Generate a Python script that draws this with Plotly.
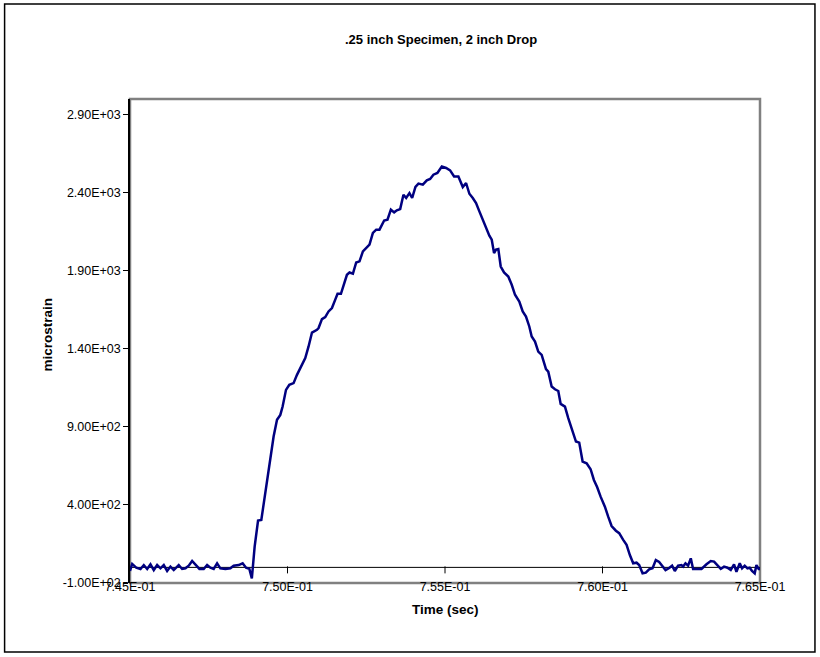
import plotly.graph_objects as go

# ---- data ----
time_s = [
    0.745000, 0.745070, 0.745197, 0.745333, 0.745438, 0.745545, 0.745650, 0.745755,
    0.745862, 0.745967, 0.746072, 0.746179, 0.746284, 0.746389, 0.746547, 0.746655,
    0.746760, 0.746864, 0.746972, 0.747099, 0.747204, 0.747340, 0.747448, 0.747552,
    0.747657, 0.747765, 0.747869, 0.748028, 0.748186, 0.748291, 0.748450, 0.748576,
    0.748684, 0.748789, 0.748868, 0.748957, 0.749065, 0.749169, 0.749274, 0.749382,
    0.749455, 0.749559, 0.749667, 0.749772, 0.749845, 0.749952, 0.750057, 0.750193,
    0.750301, 0.750406, 0.750564, 0.750669, 0.750777, 0.750935, 0.750986, 0.751094,
    0.751198, 0.751303, 0.751411, 0.751516, 0.751589, 0.751696, 0.751779, 0.751887,
    0.751969, 0.752077, 0.752181, 0.752286, 0.752394, 0.752498, 0.752603, 0.752711,
    0.752816, 0.752920, 0.753069, 0.753174, 0.753282, 0.753386, 0.753472, 0.753577,
    0.753681, 0.753767, 0.753871, 0.753957, 0.754062, 0.754157, 0.754296, 0.754423,
    0.754528, 0.754632, 0.754759, 0.754899, 0.755035, 0.755162, 0.755289, 0.755425,
    0.755565, 0.755669, 0.755774, 0.755882, 0.755986, 0.756091, 0.756199, 0.756303,
    0.756408, 0.756484, 0.756557, 0.756620, 0.756693, 0.756769, 0.756874, 0.757010,
    0.757118, 0.757223, 0.757359, 0.757467, 0.757571, 0.757676, 0.757752, 0.757857,
    0.757961, 0.758069, 0.758142, 0.758206, 0.758278, 0.758386, 0.758491, 0.758596,
    0.758672, 0.758808, 0.758913, 0.759020, 0.759157, 0.759261, 0.759369, 0.759496,
    0.759623, 0.759727, 0.759832, 0.759940, 0.760076, 0.760181, 0.760289, 0.760425,
    0.760530, 0.760657, 0.760764, 0.760869, 0.760974, 0.761081, 0.761164, 0.761272,
    0.761376, 0.761481, 0.761589, 0.761693, 0.761798, 0.761893, 0.762001, 0.762105,
    0.762210, 0.762296, 0.762400, 0.762508, 0.762559, 0.762635, 0.762717, 0.762803,
    0.762876, 0.762984, 0.763142, 0.763301, 0.763437, 0.763542, 0.763650, 0.763754,
    0.763859, 0.763967, 0.764071, 0.764176, 0.764252, 0.764357, 0.764430, 0.764515,
    0.764601, 0.764673, 0.764746, 0.764832, 0.764886, 0.764959, 0.765000,
]
microstrain = [
    -23, 22, -2, -10, 15, -10, 20, -17,
    15, -6, 15, -23, 5, -17, 15, -10,
    -6, 11, 41, 11, -10, -10, 15, -2,
    -10, 26, -6, -10, -6, 11, 15, 26,
    -2, -10, -70, 133, 300, 304, 453, 581,
    710, 838, 945, 977, 1030, 1137, 1169, 1180,
    1233, 1276, 1340, 1415, 1504, 1522, 1533, 1590,
    1603, 1639, 1661, 1715, 1752, 1752, 1810, 1874,
    1889, 1881, 1953, 1960, 2024, 2045, 2067, 2142,
    2163, 2163, 2222, 2227, 2291, 2274, 2287, 2295,
    2387, 2366, 2397, 2366, 2437, 2458, 2451, 2479,
    2488, 2515, 2526, 2567, 2558, 2543, 2504, 2504,
    2436, 2462, 2393, 2366, 2334, 2280, 2227, 2174,
    2124, 2099, 2013, 2035, 2039, 1927, 1889, 1863,
    1810, 1746, 1703, 1639, 1607, 1543, 1479, 1446,
    1382, 1361, 1308, 1270, 1254, 1158, 1141, 1130,
    1047, 1030, 956, 891, 806, 799, 678, 667,
    629, 560, 513, 453, 389, 325, 265, 235,
    219, 176, 144, 79, 26, 30, 15, -38,
    -34, -12, -6, 47, 35, 11, -17, -6,
    11, -23, 11, 15, 5, 26, 11, 58,
    -10, -10, -10, 20, 41, 37, 11, -10,
    5, -2, -17, 20, -28, 26, -6, 11,
    -6, -2, -23, -38, 15, -10, -10,
]

x_ticks = [0.745, 0.750, 0.755, 0.760, 0.765]
x_tick_labels = [f"{v:.2E}" for v in x_ticks]
y_ticks = [-100, 400, 900, 1400, 1900, 2400, 2900]
y_tick_labels = [f"{v:.2E}" for v in y_ticks]
x_range = [0.745, 0.765]
y_range = [-100, 3000]
axis_cross_y = 0  # horizontal axis crosses the vertical axis at 0

title_text = ".25 inch Specimen, 2 inch Drop"
x_title = "Time (sec)"
y_title = "microstrain"

# ---- layout geometry ----
W, H = 820, 657
L, R, T, B = 129.5, 60, 99, 74
plot_w = W - L - R
plot_h = H - T - B
TICK_PX = 5


def px_to_paper_x(px):
    return (px - L) / plot_w


def px_to_paper_y(py):
    return (H - B - py) / plot_h


FONT = "Arial, Liberation Sans, sans-serif"
TICK_SIZE = 12.5

fig = go.Figure()

# horizontal axis line that crosses at y = 0 (drawn as helper traces)
tick_len_units = TICK_PX / plot_h * (y_range[1] - y_range[0])
fig.add_trace(go.Scatter(
    x=x_range, y=[axis_cross_y, axis_cross_y], mode="lines",
    line=dict(color="black", width=1), showlegend=False, hoverinfo="skip",
    cliponaxis=False,
))
fig.add_trace(go.Scatter(
    x=x_ticks[1:-1], y=[axis_cross_y - tick_len_units / 2] * (len(x_ticks) - 2),
    mode="markers",
    marker=dict(symbol="line-ns", size=TICK_PX, color="black",
                line=dict(color="black", width=1)),
    showlegend=False, hoverinfo="skip",
))

fig.add_trace(go.Scatter(
    x=time_s, y=microstrain, mode="lines",
    line=dict(color="#000080", width=2.5),
    showlegend=False, hoverinfo="x+y",
))

fig.update_layout(
    width=W, height=H,
    margin=dict(l=L, r=R, t=T, b=B, pad=0),
    paper_bgcolor="white", plot_bgcolor="white",
    font=dict(family=FONT, size=TICK_SIZE, color="black"),
    showlegend=False,
    xaxis=dict(
        range=x_range,
        tickvals=x_ticks, ticktext=x_tick_labels, ticks="",
        ticklabelstandoff=-6,
        showline=False, showgrid=False, zeroline=False,
        tickfont=dict(family=FONT, size=TICK_SIZE, color="black"),
    ),
    yaxis=dict(
        range=y_range, tickvals=y_ticks, ticktext=y_tick_labels,
        ticks="outside", ticklen=TICK_PX, tickcolor="black", tickwidth=1,
        showline=True, linecolor="black", linewidth=1.5,
        showgrid=False, zeroline=False,
        tickfont=dict(family=FONT, size=TICK_SIZE, color="black"),
    ),
    shapes=[
        dict(type="rect", xref="paper", yref="paper", x0=0, x1=1, y0=0, y1=1,
             line=dict(color="#808080", width=2.5), layer="below"),
        dict(type="rect", xref="paper", yref="paper",
             x0=px_to_paper_x(4), x1=px_to_paper_x(815),
             y0=px_to_paper_y(652), y1=px_to_paper_y(4),
             line=dict(color="black", width=1.5), layer="below"),
    ],
    annotations=[
        dict(text=f"<b>{title_text}</b>", xref="paper", yref="paper",
             x=px_to_paper_x(441), y=px_to_paper_y(40), showarrow=False,
             xanchor="center", yanchor="middle",
             font=dict(family=FONT, size=13, color="black")),
        dict(text=f"<b>{x_title}</b>", xref="paper", yref="paper",
             x=px_to_paper_x(445), y=px_to_paper_y(609), showarrow=False,
             xanchor="center", yanchor="middle",
             font=dict(family=FONT, size=13.5, color="black")),
        dict(text=f"<b>{y_title}</b>", xref="paper", yref="paper",
             x=px_to_paper_x(46), y=px_to_paper_y(335), showarrow=False,
             xanchor="center", yanchor="middle", textangle=-90,
             font=dict(family=FONT, size=13.5, color="black")),
    ],
)

fig.write_html("out.html")
